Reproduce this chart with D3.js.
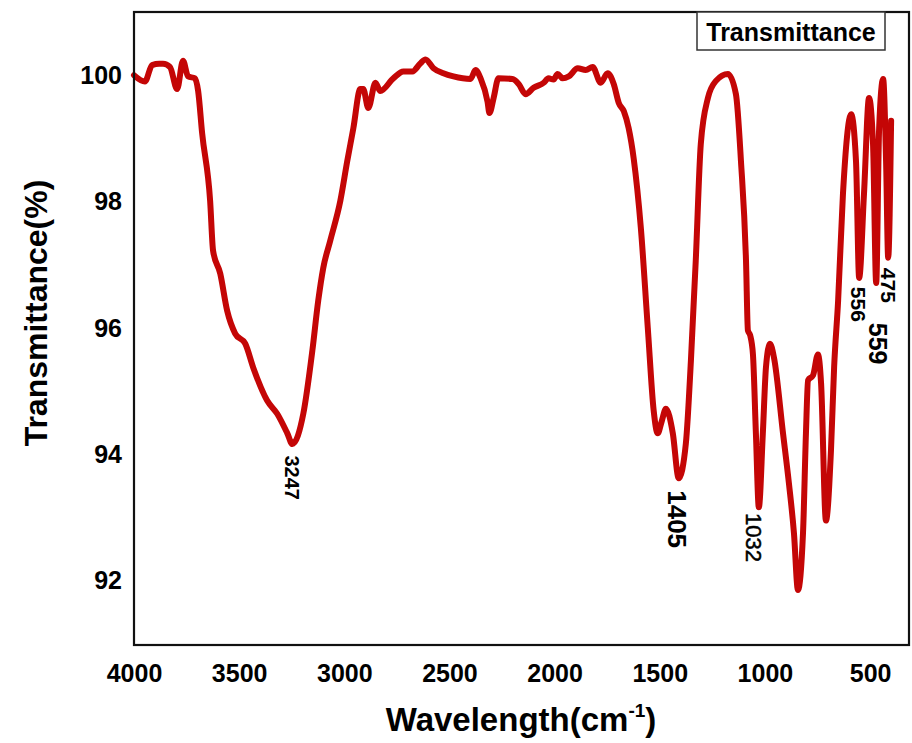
<!DOCTYPE html>
<html>
<head>
<meta charset="utf-8">
<script src="https://cdn.jsdelivr.net/npm/d3@7"></script>
<style>
  body { margin: 0; background: #fff; }
  text { font-family: Arial, "Liberation Sans", sans-serif; }
</style>
</head>
<body>
<div class="canvas"></div>
<script>
// FTIR spectrum
var wavenumber = [4000, 3948, 3914, 3880, 3862, 3829, 3795, 3767, 3743, 3710, 3695, 3676, 3638, 3624, 3590,
  3557, 3519, 3471, 3433, 3367, 3319, 3271, 3247, 3195, 3152, 3124, 3100, 3067, 3019, 2986, 2957, 2924, 2910,
  2886, 2852, 2829, 2767, 2719, 2676, 2640, 2614, 2576, 2529, 2481, 2400, 2376, 2352, 2319, 2310, 2290, 2267,
  2200, 2171, 2138, 2100, 2052, 2029, 2005, 1986, 1962, 1933, 1890, 1852, 1819, 1781, 1748, 1719, 1695, 1671,
  1648, 1624, 1590, 1557, 1529, 1510, 1490, 1471, 1438, 1410, 1376, 1352, 1329, 1305, 1271, 1233, 1176, 1138,
  1114, 1090, 1081, 1070, 1057, 1043, 1029, 1010, 995, 976, 957, 914, 886, 862, 843, 819, 805, 795, 771, 748,
  733, 710, 686, 671, 652, 629, 590, 567, 552, 529, 505, 486, 471, 457, 438, 424, 414, 400];
var transmittance = [100.02, 99.92, 100.18, 100.2, 100.2, 100.15, 99.8, 100.25, 100.0, 99.97, 99.77, 99.1, 98.03, 97.24, 96.88,
  96.29, 95.93, 95.77, 95.39, 94.87, 94.66, 94.35, 94.18, 94.66, 95.66, 96.45, 96.97, 97.4, 98.03, 98.66, 99.18, 99.8, 99.8,
  99.5, 99.9, 99.77, 99.97, 100.08, 100.08, 100.2, 100.27, 100.13, 100.05, 100.0, 99.96, 100.1, 99.97, 99.6, 99.42, 99.66, 99.97,
  99.96, 99.88, 99.72, 99.82, 99.9, 99.97, 99.95, 100.04, 99.97, 100.0, 100.13, 100.1, 100.15, 99.9, 100.05, 99.88, 99.58, 99.45,
  99.18, 98.7, 97.6, 96.02, 94.71, 94.35, 94.55, 94.74, 94.35, 93.64, 94.19, 95.5, 97.08, 98.93, 99.66, 99.93, 100.04, 99.72,
  98.66, 97.08, 95.98, 95.9, 95.6, 94.35, 93.18, 94.35, 95.4, 95.77, 95.55, 94.35, 93.56, 92.77, 91.87, 92.77, 94.35, 95.19, 95.27, 95.6,
  95.14, 92.97, 94.08, 95.4, 96.45, 98.14, 99.4, 98.66, 96.81, 98.14, 99.66, 98.93, 96.73, 99.18, 99.96, 98.66, 97.13, 99.3];

var xTicks = [4000, 3500, 3000, 2500, 2000, 1500, 1000, 500];
var yTicks = [92, 94, 96, 98, 100];

// peak annotations: text and where the text starts (wavenumber, transmittance)
var peakText = ["3247", "1405", "1032", "556", "559", "475"];
var peakWn = [3249, 1418, 1052, 553, 462, 410];
var peakT = [94.0, 93.45, 93.09, 96.67, 96.1, 96.97];

drawChart();

function drawChart(){

  var W = 912, H = 743;
  var pLeft = 134, pRight = 909, pTop = 12, pBottom = 645;
  var font = 'Arial, "Liberation Sans", sans-serif';

  var svg = d3.select('.canvas').append('svg')
    .attr('width', W)
    .attr('height', H);

  var x = d3.scaleLinear().domain([4000, 315]).range([pLeft, pRight]);
  var y = d3.scaleLinear().domain([101.02, 91]).range([pTop, pBottom]);

  // axes (labels only, no tick marks)
  var xAxis = svg.append('g')
    .attr('transform', 'translate(0,' + pBottom + ')')
    .call(d3.axisBottom(x).tickValues(xTicks).tickSize(0).tickPadding(19).tickFormat(d3.format('d')));
  xAxis.select('.domain').remove();
  xAxis.selectAll('text')
    .attr('font-size', 25).attr('font-weight', 'bold').attr('fill', '#000')
    .style('font-family', font);

  var yAxis = svg.append('g')
    .attr('transform', 'translate(' + pLeft + ',0)')
    .call(d3.axisLeft(y).tickValues(yTicks).tickSize(0).tickPadding(12));
  yAxis.select('.domain').remove();
  yAxis.selectAll('text')
    .attr('font-size', 25).attr('font-weight', 'bold').attr('fill', '#000')
    .attr('dy', '0.28em')
    .style('font-family', font);

  // spectrum line
  var pts = wavenumber.map(function(d, i){ return [d, transmittance[i]]; });
  var line = d3.line()
    .x(function(d){ return x(d[0]); })
    .y(function(d){ return y(d[1]); })
    .curve(d3.curveMonotoneX);

  svg.append('path')
    .datum(pts)
    .attr('d', line)
    .attr('fill', 'none')
    .attr('stroke', '#c40606')
    .attr('stroke-width', 6)
    .attr('stroke-linejoin', 'round')
    .attr('stroke-linecap', 'round');

  // frame
  svg.append('rect')
    .attr('x', pLeft).attr('y', pTop)
    .attr('width', pRight - pLeft).attr('height', pBottom - pTop)
    .attr('fill', 'none')
    .attr('stroke', '#111')
    .attr('stroke-width', 2.2);

  // peak labels, rotated to read downward
  var peakSize = [20, 26, 22, 21, 25, 21];
  var peakWeight = ['bold', 'bold', 'normal', 'bold', 'bold', 'bold'];
  svg.append('g').selectAll('text')
    .data(peakText)
    .enter()
    .append('text')
      .attr('transform', function(d, i){ return 'translate(' + x(peakWn[i]) + ',' + y(peakT[i]) + ') rotate(90)'; })
      .attr('dy', '0.36em')
      .attr('font-size', function(d, i){ return peakSize[i]; })
      .attr('font-weight', function(d, i){ return peakWeight[i]; })
      .attr('fill', '#000')
      .attr('stroke', function(d, i){ return peakWeight[i] === 'normal' ? '#000' : 'none'; })
      .attr('stroke-width', 0.5)
      .text(function(d){ return d; });

  // legend box
  svg.append('rect')
    .attr('x', 697).attr('y', pTop)
    .attr('width', 188).attr('height', 38)
    .attr('fill', '#fff')
    .attr('stroke', '#333')
    .attr('stroke-width', 1.5);
  svg.append('text')
    .attr('x', 791).attr('y', 41)
    .attr('text-anchor', 'middle')
    .attr('font-size', 25).attr('font-weight', 'bold')
    .text('Transmittance');

  // axis titles
  svg.append('text')
    .attr('transform', 'translate(47,313) rotate(-90)')
    .attr('text-anchor', 'middle')
    .attr('font-size', 32).attr('font-weight', 'bold')
    .text('Transmittance(%)');

  var xt = svg.append('text')
    .attr('x', 521).attr('y', 731)
    .attr('text-anchor', 'middle')
    .attr('font-size', 33).attr('font-weight', 'bold');
  xt.append('tspan').text('Wavelength(cm');
  xt.append('tspan').attr('font-size', 19).attr('dy', -14).text('-1');
  xt.append('tspan').attr('dy', 14).text(')');
}
</script>
</body>
</html>
